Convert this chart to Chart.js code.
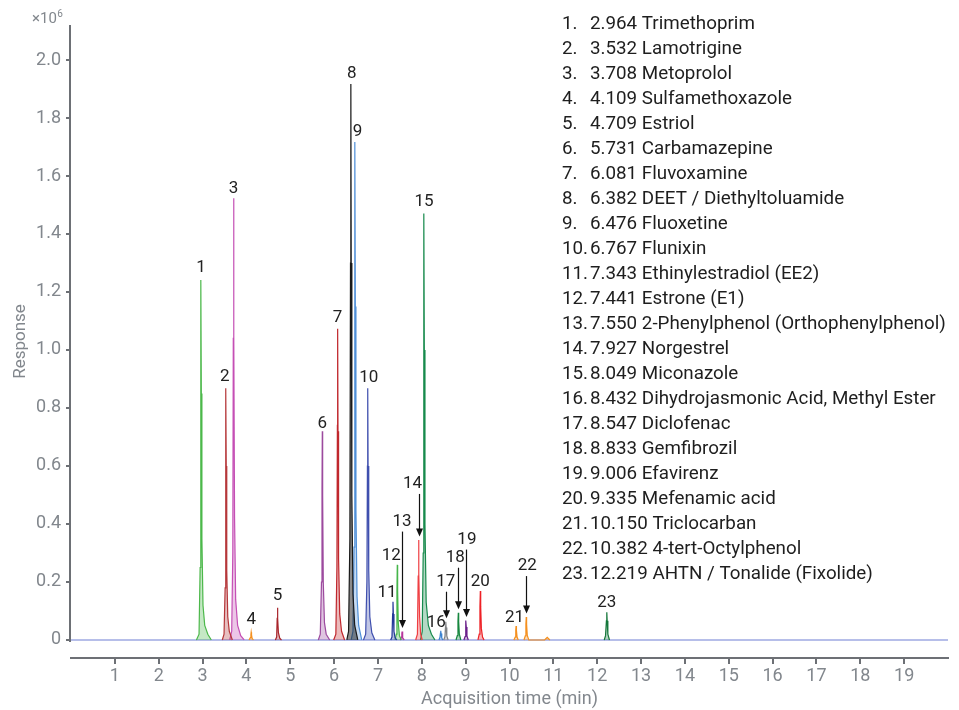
<!DOCTYPE html>
<html>
<head>
<meta charset="utf-8">
<script src="https://cdn.jsdelivr.net/npm/chart.js@4.4.1/dist/chart.umd.min.js"></script>
<style>
  html, body { margin: 0; padding: 0; background: #fff; }
  #chart { display: block; }
</style>
</head>
<body>
<canvas id="chart" width="959" height="710"></canvas>
<script>
// peak table (legend)
const retentionTimes = ['2.964', '3.532', '3.708', '4.109', '4.709', '5.731', '6.081', '6.382', '6.476', '6.767',
  '7.343', '7.441', '7.550', '7.927', '8.049', '8.432', '8.547', '8.833', '9.006', '9.335', '10.150', '10.382', '12.219'];
const compoundNames = ['Trimethoprim', 'Lamotrigine', 'Metoprolol', 'Sulfamethoxazole', 'Estriol', 'Carbamazepine',
  'Fluvoxamine', 'DEET / Diethyltoluamide', 'Fluoxetine', 'Flunixin', 'Ethinylestradiol (EE2)', 'Estrone (E1)',
  '2-Phenylphenol (Orthophenylphenol)', 'Norgestrel', 'Miconazole', 'Dihydrojasmonic Acid, Methyl Ester', 'Diclofenac',
  'Gemfibrozil', 'Efavirenz', 'Mefenamic acid', 'Triclocarban', '4-tert-Octylphenol', 'AHTN / Tonalide (Fixolide)'];

// traces: [time (min), response (x10^6)]
const trace1 = [[2.86,0],[2.92,0.02],[2.945,0.25],[2.957,0.85],[2.964,1.241],[2.972,0.85],[2.985,0.35],[3.01,0.12],[3.05,0.05],[3.12,0.02],[3.2,0]];
const trace2 = [[3.45,0],[3.49,0.02],[3.515,0.18],[3.526,0.6],[3.532,0.868],[3.54,0.6],[3.552,0.24],[3.575,0.08],[3.61,0.03],[3.68,0]];
const trace3 = [[3.62,0],[3.665,0.03],[3.69,0.3],[3.701,1.04],[3.708,1.523],[3.716,1.05],[3.73,0.42],[3.755,0.14],[3.8,0.05],[3.87,0.015],[3.95,0]];
const trace4 = [[4.06,0],[4.09,0.008],[4.103,0.02],[4.109,0.027],[4.117,0.018],[4.13,0.006],[4.16,0]];
const trace5 = [[4.66,0],[4.69,0.01],[4.702,0.075],[4.709,0.111],[4.716,0.075],[4.73,0.025],[4.76,0.006],[4.8,0]];
const trace6 = [[5.64,0],[5.685,0.02],[5.712,0.2],[5.724,0.52],[5.731,0.72],[5.739,0.5],[5.753,0.2],[5.78,0.06],[5.82,0.02],[5.9,0]];
const trace7 = [[5.99,0],[6.04,0.02],[6.064,0.25],[6.075,0.74],[6.081,1.073],[6.089,0.72],[6.102,0.28],[6.128,0.09],[6.17,0.03],[6.24,0]];
const trace8 = [[6.29,0],[6.33,0.03],[6.36,0.35],[6.374,1.3],[6.382,1.917],[6.39,1.3],[6.405,0.5],[6.43,0.16],[6.47,0.05],[6.54,0]];
const trace9 = [[6.39,0],[6.43,0.03],[6.455,0.32],[6.469,1.18],[6.476,1.717],[6.484,1.15],[6.498,0.45],[6.523,0.15],[6.56,0.05],[6.63,0]];
const trace10 = [[6.67,0],[6.72,0.02],[6.748,0.2],[6.76,0.6],[6.767,0.868],[6.775,0.6],[6.79,0.24],[6.815,0.08],[6.86,0.025],[6.93,0]];
const trace11 = [[7.29,0],[7.32,0.01],[7.335,0.09],[7.343,0.132],[7.351,0.09],[7.365,0.03],[7.39,0.008],[7.43,0]];
const trace12 = [[7.39,0],[7.42,0.02],[7.433,0.17],[7.441,0.259],[7.449,0.17],[7.463,0.06],[7.49,0.015],[7.53,0]];
const trace13 = [[7.51,0],[7.535,0.01],[7.545,0.022],[7.55,0.029],[7.557,0.02],[7.57,0.007],[7.6,0]];
const trace14 = [[7.86,0],[7.9,0.02],[7.918,0.22],[7.927,0.345],[7.935,0.23],[7.95,0.08],[7.975,0.02],[8.01,0]];
const trace15 = [[7.97,0],[8.01,0.03],[8.032,0.3],[8.043,1.0],[8.049,1.471],[8.057,1.0],[8.072,0.4],[8.1,0.13],[8.15,0.05],[8.22,0.02],[8.3,0]];
const trace16 = [[8.39,0],[8.415,0.01],[8.426,0.024],[8.432,0.032],[8.44,0.022],[8.455,0.007],[8.48,0]];
const trace17 = [[8.5,0],[8.528,0.012],[8.54,0.045],[8.547,0.063],[8.555,0.043],[8.57,0.014],[8.6,0]];
const trace18 = [[8.78,0],[8.81,0.015],[8.825,0.065],[8.833,0.094],[8.841,0.064],[8.856,0.02],[8.89,0]];
const trace19 = [[8.96,0],[8.987,0.012],[8.999,0.047],[9.006,0.067],[9.014,0.045],[9.03,0.014],[9.06,0]];
const trace20 = [[9.28,0],[9.31,0.02],[9.326,0.115],[9.335,0.169],[9.343,0.115],[9.358,0.04],[9.385,0.01],[9.42,0]];
const trace21 = [[10.1,0],[10.13,0.01],[10.143,0.034],[10.15,0.048],[10.158,0.033],[10.173,0.01],[10.2,0]];
const trace22 = [[10.33,0],[10.36,0.014],[10.374,0.055],[10.382,0.079],[10.39,0.054],[10.405,0.016],[10.44,0],
  [10.8,0],[10.84,0.006],[10.86,0.009],[10.88,0.006],[10.92,0]];
const trace23 = [[12.16,0],[12.19,0.015],[12.21,0.066],[12.219,0.096],[12.227,0.066],[12.243,0.02],[12.28,0]];

const traces = [trace1, trace2, trace3, trace4, trace5, trace6, trace7, trace8, trace9, trace10, trace11, trace12,
  trace13, trace14, trace15, trace16, trace17, trace18, trace19, trace20, trace21, trace22, trace23];

const baseline = [[0, 0], [20, 0]];
const yTicks = [0, 0.2, 0.4, 0.6, 0.8, 1.0, 1.2, 1.4, 1.6, 1.8, 2.0];
const xTicks = [1, 2, 3, 4, 5, 6, 7, 8, 9, 10, 11, 12, 13, 14, 15, 16, 17, 18, 19];

// styles
const peakColors = ['#4cb84a', '#b5373a', '#c54fb5', '#f5901e', '#a8242a', '#9c4a9e', '#c0272d', '#1a1a1a',
  '#4f8fd8', '#3f4fae', '#233899', '#45b54a', '#b5359b', '#ef3e42', '#168a4c', '#3b82d0', '#808285', '#16873e',
  '#6a1f8a', '#ee2025', '#f5901e', '#f5901e', '#14773a'];
const labelDx = [0, -1, 0, 0, 0, 0, 0, 1, 2.5, 1, -6, -6, 0, -6, 0, -4.5, 0, -3, 1, 0, -1.5, 1, 0];
const labelLift = [12, 11.5, 9.5, 12, 12, 7, 11.5, 10.5, 10, 11, 9, 9, 110, 56, 11.5, 7.5, 40, 55, 81, 9.5, 8.5, 51, 9];
const arrowed = [13, 14, 17, 18, 19, 22];

const axisColor = '#6d7075';
const tickColor = '#82878d';
const font = 'Roboto, "Noto Sans", sans-serif';

function hexAlpha(hex, a) {
  const n = parseInt(hex.slice(1), 16);
  return 'rgba(' + (n >> 16) + ',' + ((n >> 8) & 255) + ',' + (n & 255) + ',' + a + ')';
}

const datasets = traces.map((tr, i) => ({
  data: tr.map(p => ({ x: p[0], y: p[1] })),
  borderColor: peakColors[i],
  backgroundColor: hexAlpha(peakColors[i], i === 7 ? 0.5 : 0.32),
  borderWidth: 1.2,
  fill: 'origin',
  pointRadius: 0,
  tension: 0,
}));
datasets.push({
  data: baseline.map(p => ({ x: p[0], y: p[1] })),
  borderColor: '#6f7fd4',
  borderWidth: 1.2,
  fill: false,
  pointRadius: 0,
});

const overlayPlugin = {
  id: 'overlay',
  afterDatasetsDraw(chart) {
    const { ctx, scales: { x, y } } = chart;
    ctx.save();
    ctx.font = '17px ' + font;
    ctx.fillStyle = '#222';
    ctx.strokeStyle = '#111';
    ctx.textAlign = 'center';
    ctx.textBaseline = 'middle';
    traces.forEach((tr, i) => {
      const apex = tr.reduce((a, p) => (p[1] > a[1] ? p : a));
      const px = x.getPixelForValue(apex[0]);
      const py = y.getPixelForValue(apex[1]);
      const ly = py - labelLift[i];
      ctx.fillText(String(i + 1), px + labelDx[i], ly);
      if (arrowed.includes(i + 1)) {
        const ax = Math.round(px) + 0.5;
        const tip = py - 3.5;
        ctx.lineWidth = 1.2;
        ctx.beginPath();
        ctx.moveTo(ax, ly + 10);
        ctx.lineTo(ax, tip - 6);
        ctx.stroke();
        ctx.beginPath();
        ctx.moveTo(ax - 3.5, tip - 8);
        ctx.lineTo(ax + 3.5, tip - 8);
        ctx.lineTo(ax, tip);
        ctx.closePath();
        ctx.fillStyle = '#111';
        ctx.fill();
        ctx.fillStyle = '#222';
      }
    });
    ctx.restore();
  },
  afterDraw(chart) {
    const { ctx, chartArea, scales: { y } } = chart;
    ctx.save();
    // detached y axis line
    ctx.strokeStyle = axisColor;
    ctx.lineWidth = 2;
    ctx.beginPath();
    ctx.moveTo(chartArea.left - 1, chartArea.top);
    ctx.lineTo(chartArea.left - 1, y.getPixelForValue(0) + 2);
    ctx.stroke();

    // multiplier
    ctx.fillStyle = tickColor;
    ctx.textBaseline = 'alphabetic';
    ctx.textAlign = 'left';
    ctx.font = '15px ' + font;
    ctx.fillText('\u00d710', 32, 23);
    const w = ctx.measureText('\u00d710').width;
    ctx.font = '10px ' + font;
    ctx.fillText('6', 32 + w + 0.5, 17);

    // compound list
    ctx.fillStyle = '#1e1e1e';
    ctx.font = '18.8px ' + font;
    ctx.textBaseline = 'middle';
    compoundNames.forEach((name, i) => {
      const ty = 24 + i * 25;
      ctx.fillText((i + 1) + '.', 562, ty);
      ctx.fillText(retentionTimes[i] + ' ' + name, 590, ty);
    });
    ctx.restore();
  }
};

new Chart(document.getElementById('chart'), {
  type: 'line',
  data: { datasets },
  options: {
    responsive: false,
    animation: false,
    layout: { padding: { left: 0, right: 11, top: 25, bottom: 0 } },
    plugins: { legend: { display: false }, tooltip: { enabled: false } },
    scales: {
      x: {
        type: 'linear',
        min: 0,
        max: 20,
        afterBuildTicks: s => { s.ticks = xTicks.map(v => ({ value: v })); },
        afterFit: s => { s.height = 52; },
        grid: { drawOnChartArea: false, drawTicks: true, tickLength: 6, color: axisColor, lineWidth: 2 },
        border: { display: true, color: axisColor, width: 2 },
        ticks: { color: tickColor, font: { family: font, size: 18 }, padding: 2, maxRotation: 0, autoSkip: false },
        title: { display: true, text: 'Acquisition time (min)', color: tickColor, font: { family: font, size: 18 }, padding: { top: 0, bottom: 0 } },
      },
      y: {
        type: 'linear',
        min: -0.0621,
        max: 2.1207,
        afterBuildTicks: s => { s.ticks = yTicks.map(v => ({ value: v })); },
        afterFit: s => { s.width = 71; },
        grid: { drawOnChartArea: false, drawTicks: true, tickLength: 5, color: axisColor, lineWidth: 2 },
        border: { display: false },
        ticks: { color: tickColor, font: { family: font, size: 18 }, padding: 5, callback: v => (v === 0 ? '0' : v.toFixed(1)) },
        title: { display: true, text: 'Response', color: tickColor, font: { family: font, size: 17 }, padding: { top: 11, bottom: 0 } },
      },
    },
  },
  plugins: [overlayPlugin],
});
</script>
</body>
</html>
